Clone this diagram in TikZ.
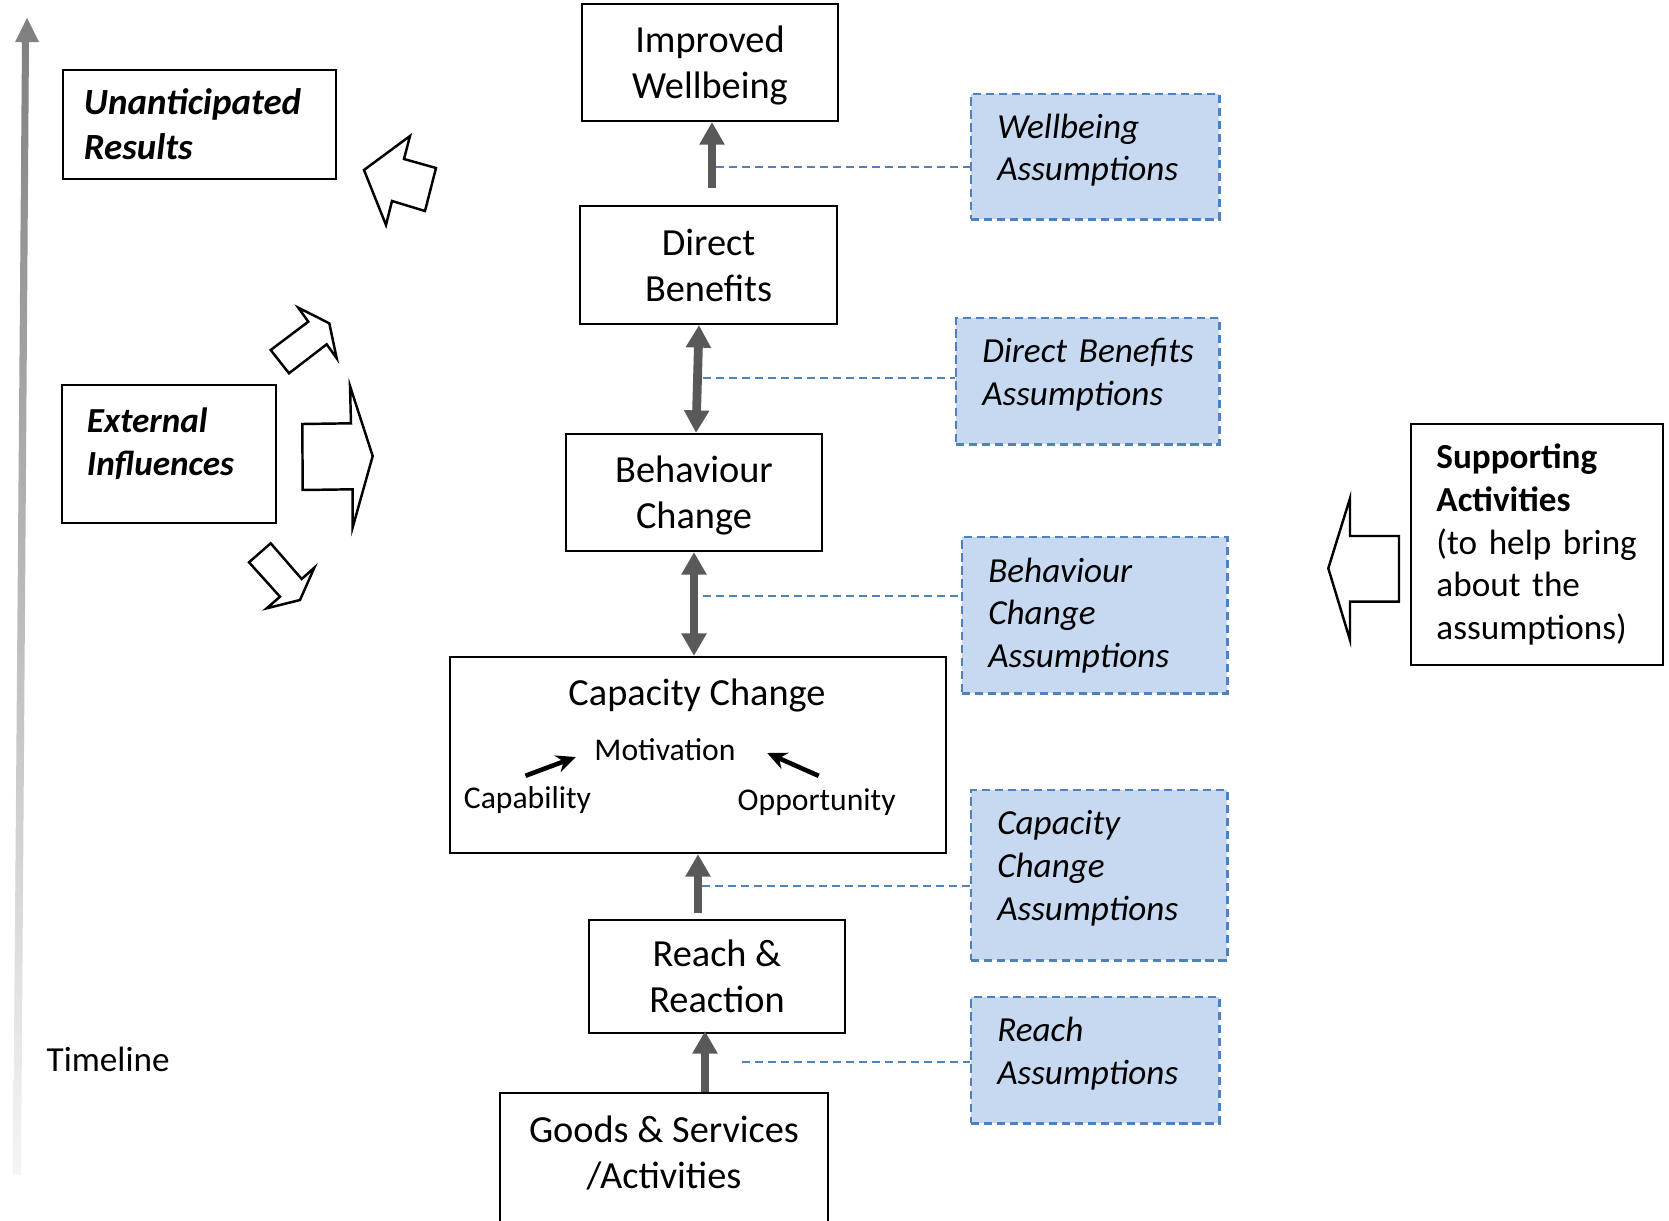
\documentclass[tikz,border=0pt]{standalone}
\usepackage{fontspec}
\setmainfont{Carlito}
\usetikzlibrary{arrows.meta,calc}
\definecolor{flowgray}{HTML}{595959}
\definecolor{assumblue}{HTML}{4F81BD}
\definecolor{assumfill}{HTML}{C6D9F0}
\definecolor{timegray}{HTML}{7F7F7F}
\newcommand{\boxsize}{\fontsize{10.9}{13.1}\selectfont}
\newcommand{\sidesize}{\fontsize{10}{12.1}\selectfont}
\newcommand{\innersize}{\fontsize{9}{11}\selectfont}

\tikzset{
  mainbox/.style={draw, line width=0.6pt, align=center, font=\boxsize},
  sidebox/.style={draw, line width=0.6pt, align=left, font=\sidesize},
  assumbox/.style={draw=assumblue, fill=assumfill, line width=0.7pt,
    dash pattern=on 2.3pt off 1.4pt, align=left, anchor=north west,
    inner xsep=0.26cm, font=\sidesize\itshape},
  assumlink/.style={assumblue, line width=0.6pt, dash pattern=on 2.3pt off 1.4pt},
  flow/.style={flowgray, line width=2.5pt, -{Triangle[width=6.8pt,length=6.4pt]}},
  flowboth/.style={flow, {Triangle[width=6.8pt,length=6.4pt]}-{Triangle[width=6.8pt,length=6.4pt]}},
  blockarrow/.style={draw, fill=white, line width=0.7pt, line join=miter},
  comarrow/.style={line width=1.3pt, -{Stealth[length=5.5pt,width=5pt]}},
}

\begin{document}
\begin{tikzpicture}[x=0.01cm, y=-0.01cm]
  % page: 1669 x 1221 units, y runs downwards
  \useasboundingbox (0,0) rectangle (1669,1221);

  % Timeline
  \shade[top color=timegray, bottom color=timegray!8]
    (27,18) -- (39,42) -- (29,42) -- (21,1175) -- (13,1175) -- (22,42) -- (15,42) -- cycle;
  \node[font=\sidesize, anchor=west, inner sep=0] (timeline) at (46,1059) {Timeline};

  % Results chain
  \node[mainbox, minimum width=2.56cm, minimum height=1.17cm, text depth=-1.8pt] (wellbeing)
    at (710,62.5) {Improved\\Wellbeing};
  \node[mainbox, minimum width=2.57cm, minimum height=1.18cm] (benefits) at (708.5,265)
    {Direct\\Benefits};
  \node[mainbox, minimum width=2.56cm, minimum height=1.17cm, text depth=-1.2pt] (behaviour)
    at (694,492.5) {Behaviour\\Change};
  \node[mainbox, minimum width=4.96cm, minimum height=1.96cm] (capacity) at (698,755) {};
  \node[mainbox, minimum width=2.56cm, minimum height=1.13cm, text depth=-1.5pt] (reach)
    at (717,976.5) {Reach \&\\Reaction};
  \node[mainbox, minimum width=3.28cm, anchor=north, inner ysep=0.23cm, text depth=2cm]
    (goods) at (664,1092) {Goods \& Services\\/Activities};

  % inside the capacity box
  \node[font=\boxsize, inner sep=0] (captitle) at (697,695) {Capacity Change};
  \node[font=\innersize, inner sep=0] (motiv) at (665,750) {Motivation};
  \node[font=\innersize, inner sep=0] (capab) at (527.5,800) {Capability};
  \node[font=\innersize, inner sep=0] (oppor) at (816.7,802) {Opportunity};
  \draw[comarrow] ($(capab.north)+(-2,-10)$) -- ($(motiv.west)+(-18,7)$);
  \draw[comarrow] ($(oppor.north)+(2,-12)$) -- ($(motiv.east)+(31,3)$);

  % Flow arrows
  \draw[flow] ($(benefits.north -| wellbeing.south)+(2,-17)$) -- ($(wellbeing.south)+(2,0)$);
  \draw[flowboth] ($(benefits.south -| behaviour.north)+(5,0)$) -- ($(behaviour.north)+(2,0)$);
  \draw[flowboth] (behaviour.south) -- (capacity.north -| behaviour.south);
  \draw[flowboth, -{Triangle[width=6.8pt,length=6.4pt]}]
    ($(reach.north -| capacity.south)+(0,-6)$) -- (capacity.south);
  \draw[flow] ($(goods.north -| reach.south)+(-12,0)$) -- ($(reach.south)+(-12,-3)$);

  % Assumptions
  \node[assumbox, minimum width=2.48cm, minimum height=1.25cm, text width=1.96cm,
    text depth=17.6pt] (wassum) at (970,93) {Wellbeing\\Assumptions};
  \node[assumbox, minimum width=2.63cm, minimum height=1.26cm, text width=2.11cm,
    text depth=17.6pt] (dassum) at (955,317) {\mbox{Direct Benefits}\\Assumptions};
  \node[assumbox, minimum width=2.65cm, minimum height=1.56cm, text width=2.13cm]
    (bassum) at (961,536) {Behaviour\\Change\\Assumptions};
  \node[assumbox, minimum width=2.56cm, minimum height=1.70cm, text width=2.04cm,
    text depth=29.8pt] (cassum) at (970,789) {Capacity\\Change\\Assumptions};
  \node[assumbox, minimum width=2.48cm, minimum height=1.26cm, text width=1.96cm,
    text depth=17.6pt] (rassum) at (970,996) {Reach\\Assumptions};

  \coordinate (wlink) at (716,167);
  \coordinate (dlink) at (703,378);
  \coordinate (blink) at (703,596);
  \coordinate (clink) at (702,886);
  \coordinate (rlink) at (742,1062);
  \draw[assumlink] (wlink) -- (wlink -| wassum.west);
  \draw[assumlink] (dlink) -- (dlink -| dassum.west);
  \draw[assumlink] (blink) -- (blink -| bassum.west);
  \draw[assumlink] (clink) -- (clink -| cassum.west);
  \draw[assumlink] (rlink) -- (rlink -| rassum.west);

  % Side boxes
  \node[sidebox, minimum width=2.73cm, minimum height=1.09cm, inner xsep=0.21cm,
    text width=2.31cm, font=\fontsize{10.5}{12.7}\selectfont\bfseries\itshape]
    (unanticipated) at (199.5,124.5) {Unanticipated\\Results};
  \node[sidebox, minimum width=2.14cm, minimum height=1.38cm, inner xsep=0.25cm,
    text width=1.64cm, text depth=19pt, font=\sidesize\bfseries\itshape]
    (external) at (169,454) {External\\Influences};
  \node[sidebox, minimum width=2.51cm, minimum height=2.41cm, inner xsep=0.25cm,
    text width=2.01cm]
    (supporting) at (1537,544.5) {\textbf{Supporting}\\\textbf{Activities}\\(to help bring\\about the\\assumptions)};

  % Block arrows
  \draw[blockarrow] (364,170) -- (410,136) -- (404,159) -- (436,168) -- (425,211)
    -- (392,201) -- (386,225) -- cycle;
  \draw[blockarrow] (270.7,350) -- (308.3,321.7) -- (298.3,307.7) -- (329.3,323.3)
    -- (336.7,358.3) -- (326.7,344.3) -- (289,373.3) -- cycle;
  \draw[blockarrow] (302.3,424) -- (351,423.3) -- (350,386) -- (372.7,456)
    -- (352.7,527.3) -- (352.7,489.3) -- (302.7,490) -- cycle;
  \draw[blockarrow] (249,562.3) -- (270.7,543.3) -- (301.7,579) -- (314.3,567.7)
    -- (300,600) -- (266.7,608.3) -- (280,596.7) -- cycle;
  \draw[blockarrow] (1328.3,568.3) -- (1350,498.3) -- (1350,536) -- (1399,536)
    -- (1399,601.7) -- (1350,601.7) -- (1350,640) -- cycle;

\end{tikzpicture}
\end{document}
